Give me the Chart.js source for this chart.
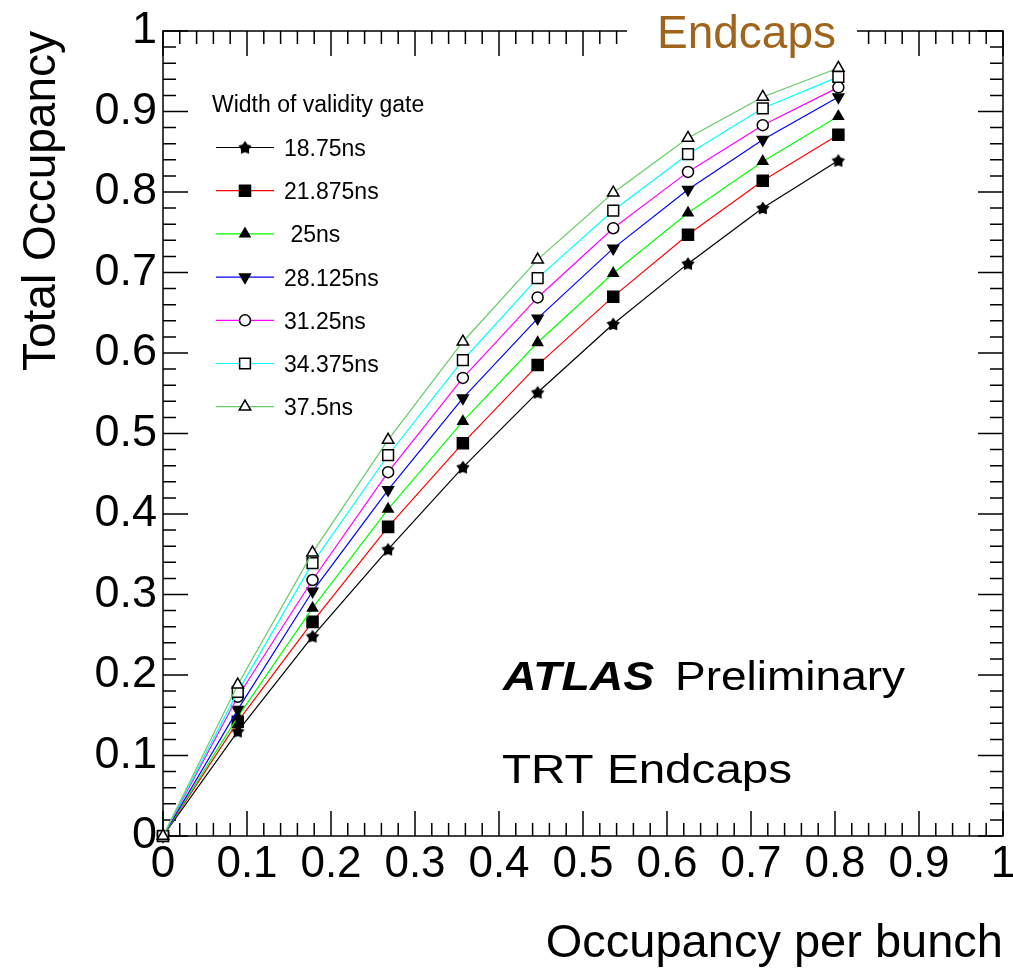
<!DOCTYPE html>
<html>
<head>
<meta charset="utf-8">
<script src="https://cdn.jsdelivr.net/npm/chart.js@4/dist/chart.umd.min.js"></script>
<style>
  html, body { margin: 0; padding: 0; background: #fff; }
</style>
</head>
<body>
<canvas id="chart" width="1013" height="973"></canvas>
<script>
// values
const occupancyPerBunch = [0, 0.089, 0.178, 0.268, 0.357, 0.446, 0.536, 0.625, 0.714, 0.804];
const gateLabels = ['18.75ns', '21.875ns', ' 25ns', '28.125ns', '31.25ns', '34.375ns', '37.5ns'];
const occ18_75 = [0, 0.130, 0.248, 0.356, 0.458, 0.551, 0.636, 0.711, 0.780, 0.839];
const occ21_875 = [0, 0.142, 0.266, 0.384, 0.488, 0.585, 0.670, 0.747, 0.814, 0.871];
const occ25 = [0, 0.148, 0.283, 0.406, 0.515, 0.613, 0.699, 0.774, 0.838, 0.894];
const occ28_125 = [0, 0.157, 0.304, 0.430, 0.544, 0.643, 0.730, 0.803, 0.865, 0.918];
const occ31_25 = [0, 0.173, 0.318, 0.452, 0.569, 0.669, 0.755, 0.825, 0.883, 0.930];
const occ34_375 = [0, 0.179, 0.339, 0.473, 0.591, 0.693, 0.777, 0.847, 0.904, 0.943];
const occ37_5 = [0, 0.188, 0.352, 0.492, 0.614, 0.716, 0.799, 0.867, 0.918, 0.954];
const seriesValues = [occ18_75, occ21_875, occ25, occ28_125, occ31_25, occ34_375, occ37_5];

const FONT = "'Liberation Sans', Arial, Helvetica, sans-serif";

// small filled star used for the first series
function makeStar(r) {
  const c = document.createElement('canvas');
  c.width = c.height = 2 * r + 2;
  const g = c.getContext('2d');
  g.fillStyle = '#000';
  g.beginPath();
  for (let k = 0; k < 10; k++) {
    const rad = k % 2 ? r * 0.6 : r;
    const ang = -Math.PI / 2 + k * Math.PI / 5;
    const px = c.width / 2 + rad * Math.cos(ang);
    const py = c.height / 2 + 0.5 + rad * Math.sin(ang);
    if (k === 0) g.moveTo(px, py); else g.lineTo(px, py);
  }
  g.closePath();
  g.fill();
  return c;
}

const lineColors = ['#000000', '#ff0000', '#00ff00', '#0000ff', '#ff00ff', '#00ffff', '#66cc66'];
const markers = [
  { pointStyle: makeStar(7), radius: 7, rotation: 0, fill: '#000' },
  { pointStyle: 'rect', radius: 7.8, rotation: 0, fill: '#000' },
  { pointStyle: 'triangle', radius: 5.8, rotation: 0, fill: '#000' },
  { pointStyle: 'triangle', radius: 6.2, rotation: 180, fill: '#000' },
  { pointStyle: 'circle', radius: 5.5, rotation: 0, fill: '#fff' },
  { pointStyle: 'rect', radius: 7.6, rotation: 0, fill: '#fff' },
  { pointStyle: 'triangle', radius: 6.6, rotation: 0, fill: '#fff' },
];

const datasets = seriesValues.map((vals, i) => ({
  label: gateLabels[i],
  data: vals.map((v, j) => ({ x: occupancyPerBunch[j], y: v })),
  borderColor: lineColors[i],
  borderWidth: 1.2,
  showLine: true,
  tension: 0,
  clip: false,
  pointStyle: markers[i].pointStyle,
  pointRadius: markers[i].radius,
  pointRotation: markers[i].rotation,
  pointBackgroundColor: markers[i].fill,
  pointBorderColor: '#000',
  pointBorderWidth: 1.5,
  order: 7 - i,
}));

// ROOT-style frame with inward ticks on all four sides
const frameTicks = {
  id: 'frameTicks',
  beforeDatasetsDraw(chart) {
    const { ctx, chartArea: a, scales: { x, y } } = chart;
    ctx.save();
    ctx.strokeStyle = '#000';
    ctx.lineWidth = 1.5;
    ctx.strokeRect(a.left, a.top, a.right - a.left, a.bottom - a.top);
    ctx.beginPath();
    for (let i = 0; i <= 50; i++) {
      const v = i / 50;
      const len = i % 5 === 0 ? 25 : 13;
      const px = x.getPixelForValue(v);
      ctx.moveTo(px, a.bottom); ctx.lineTo(px, a.bottom - len);
      ctx.moveTo(px, a.top); ctx.lineTo(px, a.top + len);
      const py = y.getPixelForValue(v);
      ctx.moveTo(a.left, py); ctx.lineTo(a.left + len, py);
      ctx.moveTo(a.right, py); ctx.lineTo(a.right - len, py);
    }
    ctx.stroke();
    ctx.restore();
  }
};

function drawMarker(ctx, m, px, py) {
  ctx.fillStyle = m.fill;
  ctx.strokeStyle = '#000';
  ctx.lineWidth = 1.5;
  Chart.helpers.drawPoint(ctx, { pointStyle: m.pointStyle, rotation: m.rotation, radius: m.radius, borderWidth: 1.5 }, px, py);
}

// legend, labels and the "Endcaps" heading
const annotations = {
  id: 'annotations',
  afterDraw(chart) {
    const ctx = chart.ctx;
    ctx.save();
    // heading box breaks the top frame
    ctx.fillStyle = '#fff';
    ctx.fillRect(627, 0, 230, 58);
    ctx.fillStyle = '#a0651d';
    ctx.font = '46px ' + FONT;
    ctx.textBaseline = 'alphabetic';
    ctx.textAlign = 'left';
    ctx.fillText('Endcaps', 657, 48);

    // ATLAS Preliminary / TRT Endcaps (wide lettering)
    ctx.fillStyle = '#000';
    ctx.save();
    ctx.translate(503, 690);
    ctx.scale(1.16, 1);
    ctx.font = 'italic bold 40px ' + FONT;
    ctx.fillText('ATLAS', 0, 0);
    ctx.restore();
    ctx.save();
    ctx.translate(675, 690);
    ctx.scale(1.15, 1);
    ctx.font = '40px ' + FONT;
    ctx.fillText('Preliminary', 0, 0);
    ctx.restore();
    ctx.save();
    ctx.translate(502, 783);
    ctx.scale(1.19, 1);
    ctx.font = '40px ' + FONT;
    ctx.fillText('TRT Endcaps', 0, 0);
    ctx.restore();

    // legend
    ctx.font = '23px ' + FONT;
    ctx.fillStyle = '#000';
    ctx.fillText('Width of validity gate', 212, 112);
    chart.data.datasets.forEach((ds, i) => {
      const cy = 147.5 + i * 43.2;
      ctx.strokeStyle = ds.borderColor;
      ctx.lineWidth = 1.2;
      ctx.beginPath();
      ctx.moveTo(216, cy);
      ctx.lineTo(274, cy);
      ctx.stroke();
      drawMarker(ctx, markers[i], 245, cy);
      ctx.fillStyle = '#000';
      ctx.font = '23px ' + FONT;
      ctx.fillText(ds.label, 284, cy + 8.5);
    });
    ctx.restore();
  }
};

const fmt = v => String(Number(v.toFixed(1)));

new Chart(document.getElementById('chart'), {
  type: 'scatter',
  data: { datasets },
  options: {
    responsive: false,
    animation: false,
    devicePixelRatio: 1,
    layout: { padding: { left: 0, top: 31, right: 10, bottom: 0 } },
    plugins: {
      legend: { display: false },
      tooltip: { enabled: false },
    },
    scales: {
      x: {
        type: 'linear',
        min: 0,
        max: 1,
        grid: { display: false, drawTicks: false },
        border: { display: false },
        ticks: {
          stepSize: 0.1,
          autoSkip: false,
          maxRotation: 0,
          padding: 2,
          color: '#000',
          font: { family: FONT, size: 44 },
          callback: fmt,
        },
        title: {
          display: true,
          text: 'Occupancy per bunch',
          align: 'end',
          color: '#000',
          font: { family: FONT, size: 47 },
          padding: { top: 0, bottom: 1 },
        },
        afterFit(scale) {
          scale.height = 137;
          scale.paddingLeft = 0;
          scale.paddingRight = 0;
        },
      },
      y: {
        type: 'linear',
        min: 0,
        max: 1,
        grid: { display: false, drawTicks: false },
        border: { display: false },
        ticks: {
          stepSize: 0.1,
          autoSkip: false,
          padding: 6,
          color: '#000',
          font: { family: FONT, size: 45 },
          callback: fmt,
        },
        title: {
          display: true,
          text: 'Total Occupancy',
          align: 'end',
          color: '#000',
          font: { family: FONT, size: 46 },
          padding: { top: 15, bottom: 0 },
        },
        afterFit(scale) {
          scale.width = 163;
          scale.paddingTop = 0;
          scale.paddingBottom = 0;
        },
      },
    },
  },
  plugins: [frameTicks, annotations],
});
</script>
</body>
</html>
